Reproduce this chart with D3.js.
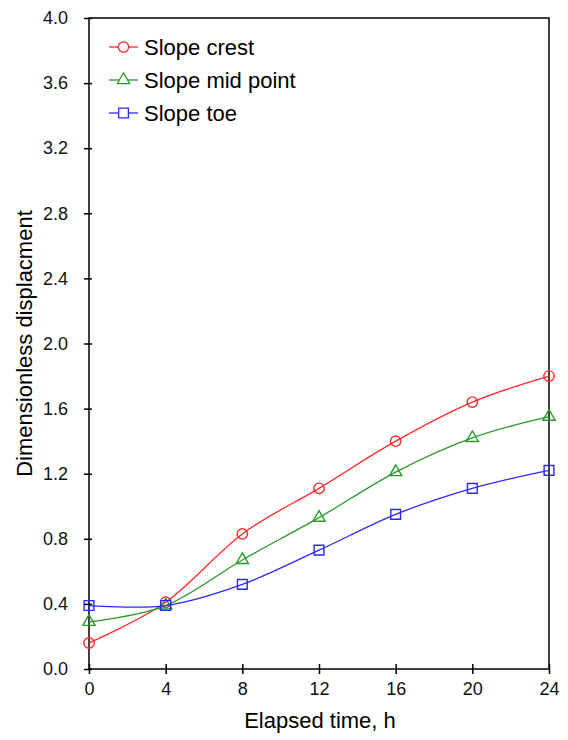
<!DOCTYPE html>
<html>
<head>
<meta charset="utf-8">
<script src="https://cdn.jsdelivr.net/npm/d3@7"></script>
<style>
  html, body { margin: 0; padding: 0; background: #fff; }
  svg { display: block; font-family: "Liberation Sans", Arial, sans-serif; }
</style>
</head>
<body>
<svg id="chart" width="568" height="740"></svg>
<script>
// Elapsed time (h) at each measurement
const hours = [0, 4, 8, 12, 16, 20, 24];

// Dimensionless displacement at each measurement point on the slope
const slopeCrest = [0.16, 0.41, 0.83, 1.11, 1.40, 1.64, 1.80];
const slopeMid   = [0.29, 0.39, 0.67, 0.93, 1.21, 1.42, 1.55];
const slopeToe   = [0.39, 0.39, 0.52, 0.73, 0.95, 1.11, 1.22];

const seriesNames = ["Slope crest", "Slope mid point", "Slope toe"];

const xTicks = [0, 4, 8, 12, 16, 20, 24];
const yTicks = [0.0, 0.4, 0.8, 1.2, 1.6, 2.0, 2.4, 2.8, 3.2, 3.6, 4.0];

const series = [
  { name: seriesNames[0], values: slopeCrest, color: "#ff2a2a", marker: "circle" },
  { name: seriesNames[1], values: slopeMid,   color: "#2a9a2a", marker: "triangle" },
  { name: seriesNames[2], values: slopeToe,   color: "#2a2aff", marker: "square" }
];

const svg = d3.select("#chart");
const plotLeft = 89, plotRight = 549, plotTop = 18, plotBottom = 669;

const x = d3.scaleLinear().domain([0, 24]).range([plotLeft, plotRight]);
const y = d3.scaleLinear().domain([0, 4]).range([plotBottom, plotTop]);

// Plot frame
svg.append("rect")
  .attr("x", plotLeft).attr("y", plotTop)
  .attr("width", plotRight - plotLeft).attr("height", plotBottom - plotTop)
  .attr("fill", "none").attr("stroke", "#000").attr("stroke-width", 1.5);

// Axes with ticks crossing the frame
const xAxis = svg.append("g").attr("transform", `translate(0,${plotBottom})`)
  .call(d3.axisBottom(x).tickValues(xTicks).tickSize(5).tickFormat(d3.format("d")));
xAxis.selectAll(".tick line").clone().attr("y2", -5);
const yAxis = svg.append("g").attr("transform", `translate(${plotLeft},0)`)
  .call(d3.axisLeft(y).tickValues(yTicks).tickSize(5).tickFormat(d3.format(".1f")));
yAxis.selectAll(".tick line").clone().attr("x2", 3);

[xAxis, yAxis].forEach(a => {
  a.select(".domain").remove();
  a.selectAll(".tick line").attr("stroke", "#000").attr("stroke-width", 1.5);
  a.selectAll(".tick text").attr("font-size", 18).attr("fill", "#111")
    .attr("font-family", "Liberation Sans, Arial, sans-serif");
});
xAxis.selectAll(".tick text").attr("y", 13);
yAxis.selectAll(".tick text").attr("x", -21);

// Axis titles
svg.append("text")
  .attr("x", 320).attr("y", 728)
  .attr("text-anchor", "middle").attr("font-size", 22).attr("fill", "#000")
  .text("Elapsed time, h");
svg.append("text")
  .attr("transform", `translate(32,${(207 + 480) / 2}) rotate(-90)`)
  .attr("text-anchor", "middle").attr("font-size", 22).attr("fill", "#000")
  .text("Dimensionless displacment");

const line = d3.line()
  .x((d, i) => x(hours[i]))
  .y(d => y(d))
  .curve(d3.curveCardinal.tension(0));

const symbolFor = {
  circle: d3.symbol().type(d3.symbolCircle).size(85),
  triangle: d3.symbol().type(d3.symbolTriangle).size(65),
  square: d3.symbol().type(d3.symbolSquare).size(95)
};

const g = svg.append("g");
series.forEach(s => {
  g.append("path")
    .attr("d", line(s.values))
    .attr("fill", "none").attr("stroke", s.color).attr("stroke-width", 1.3);
  g.selectAll(null).data(s.values).enter().append("path")
    .attr("transform", (d, i) => `translate(${x(hours[i])},${y(d)})`)
    .attr("d", symbolFor[s.marker]())
    .attr("fill", "none").attr("stroke", s.color).attr("stroke-width", 1.4);
});

// Legend
const legend = svg.append("g");
series.forEach((s, i) => {
  const ly = 47 + i * 33;
  legend.append("line")
    .attr("x1", 109).attr("x2", 138).attr("y1", ly).attr("y2", ly)
    .attr("stroke", s.color).attr("stroke-width", 1.3);
  legend.append("path")
    .attr("transform", `translate(123.5,${ly})`)
    .attr("d", symbolFor[s.marker]())
    .attr("fill", "#fff").attr("stroke", s.color).attr("stroke-width", 1.3);
  legend.append("text")
    .attr("x", 144).attr("y", ly + 8)
    .attr("font-size", 22).attr("fill", "#000")
    .text(s.name);
});
</script>
</body>
</html>
